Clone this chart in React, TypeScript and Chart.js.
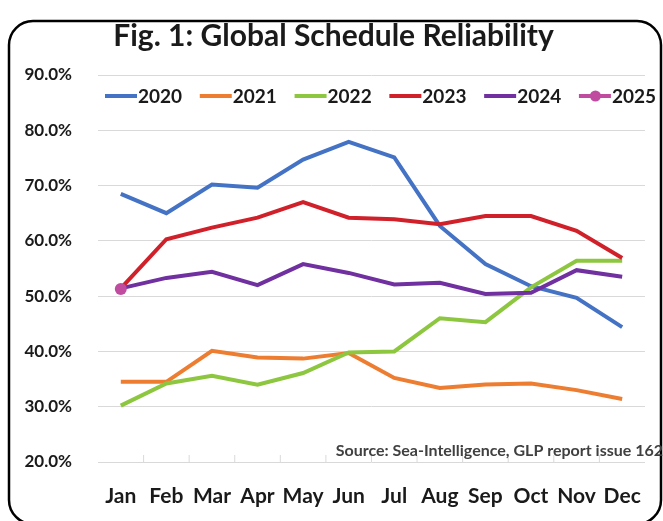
import { useEffect, useRef } from "react";
import { Chart, registerables } from "chart.js";

Chart.register(...registerables);

const MONTHS = ["Jan", "Feb", "Mar", "Apr", "May", "Jun", "Jul", "Aug", "Sep", "Oct", "Nov", "Dec"];
const SERIES_LABELS = ["2020", "2021", "2022", "2023", "2024", "2025"];
const S2020 = [68.5, 65.0, 70.2, 69.6, 74.7, 77.9, 75.1, 62.7, 55.8, 51.8, 49.7, 44.4];
const S2021 = [34.5, 34.5, 40.1, 38.9, 38.7, 39.7, 35.2, 33.4, 34.0, 34.2, 33.0, 31.4];
const S2022 = [30.2, 34.2, 35.6, 34.0, 36.1, 39.8, 40.0, 46.0, 45.3, 51.6, 56.4, 56.4];
const S2023 = [51.4, 60.3, 62.4, 64.2, 67.0, 64.2, 63.9, 63.0, 64.5, 64.5, 61.8, 56.9];
const S2024 = [51.4, 53.3, 54.4, 52.0, 55.8, 54.2, 52.1, 52.4, 50.4, 50.6, 54.7, 53.5];
const S2025 = [51.3, null, null, null, null, null, null, null, null, null, null, null];
const COLORS = ["#4472C4", "#ED7D31", "#8DC63F", "#D0202A", "#7030A0", "#C04CA0"];
const Y_MIN = 20;
const Y_MAX = 90;
const Y_STEP = 10;
const TITLE = "Fig. 1: Global Schedule Reliability";
const SOURCE = "Source: Sea-Intelligence, GLP report issue 162";

const FONT = "Lato, 'Open Sans', sans-serif";

const framePlugin = {
  id: "frame",
  beforeDraw(chart: any) {
    const ctx = chart.ctx;
    ctx.save();
    ctx.fillStyle = "#ffffff";
    ctx.fillRect(0, 0, chart.width, chart.height);
    ctx.beginPath();
    ctx.roundRect(9, 21, 652, 503, 24);
    ctx.lineWidth = 2.5;
    ctx.strokeStyle = "#000000";
    ctx.stroke();
    ctx.restore();
  },
  afterDraw(chart: any) {
    const ctx = chart.ctx;
    const area = chart.chartArea;
    const xs = chart.scales.x;
    ctx.save();
    ctx.strokeStyle = "#d9d9d9";
    ctx.lineWidth = 1;
    for (let i = 0; i < MONTHS.length - 1; i++) {
      const px = (xs.getPixelForTick(i) + xs.getPixelForTick(i + 1)) / 2;
      ctx.beginPath();
      ctx.moveTo(px, area.bottom - 7);
      ctx.lineTo(px, area.bottom);
      ctx.stroke();
    }
    ctx.font = `bold 16px ${FONT}`;
    ctx.fillStyle = "#404040";
    ctx.textAlign = "right";
    ctx.textBaseline = "middle";
    ctx.fillText(SOURCE, 663, 451);
    ctx.font = `bold 19px ${FONT}`;
    ctx.textAlign = "left";
    const items = chart.data.datasets.map((d: any) => ({
      label: d.label,
      color: d.borderColor,
      marker: d.pointRadius > 0,
      w: ctx.measureText(d.label).width,
    }));
    const sw = 33;
    const startX = 105;
    const endX = 656;
    const used = items.reduce((s: number, it: any) => s + sw + it.w, 0);
    const gap = (endX - startX - used) / (items.length - 1);
    let x = startX;
    const y = 96;
    items.forEach((it: any) => {
      ctx.strokeStyle = it.color;
      ctx.lineWidth = 4;
      ctx.lineCap = "butt";
      ctx.beginPath();
      ctx.moveTo(x, y);
      ctx.lineTo(x + sw - 1, y);
      ctx.stroke();
      if (it.marker) {
        ctx.fillStyle = it.color;
        ctx.beginPath();
        ctx.arc(x + sw / 2, y, 5.5, 0, Math.PI * 2);
        ctx.fill();
      }
      ctx.fillStyle = "#1a1a1a";
      ctx.fillText(it.label, x + sw, y + 1);
      x += sw + it.w + gap;
    });
    ctx.restore();
  },
};

export default function App() {
  const ref = useRef<HTMLCanvasElement | null>(null);

  useEffect(() => {
    document.body.style.margin = "0";
    document.body.style.overflow = "hidden";
    const values = [S2020, S2021, S2022, S2023, S2024, S2025];
    const chart = new Chart(ref.current as HTMLCanvasElement, {
      type: "line",
      data: {
        labels: MONTHS,
        datasets: values.map((v, i) => ({
          label: SERIES_LABELS[i],
          data: v,
          borderColor: COLORS[i],
          backgroundColor: COLORS[i],
          borderWidth: 4,
          pointRadius: i === 5 ? 6 : 0,
          pointHoverRadius: i === 5 ? 6 : 0,
          pointBorderWidth: 0,
          tension: 0,
          fill: false,
          order: values.length - i,
          spanGaps: false,
        })),
      },
      options: {
        responsive: false,
        animation: false,
        layout: { padding: { left: 0, right: -4, top: 0, bottom: 0 } },
        plugins: {
          legend: { display: false },
          tooltip: { enabled: false },
          title: {
            display: true,
            text: TITLE,
            color: "#1a1a1a",
            font: { family: FONT, size: 30, weight: "bold" },
            padding: { top: 18, bottom: 21 },
          },
        },
        scales: {
          x: {
            offset: true,
            grid: { display: false, drawTicks: false },
            border: { display: false },
            afterFit: (s: any) => {
              s.height = 59;
            },
            ticks: {
              color: "#1a1a1a",
              font: { family: FONT, size: 21, weight: "bold" },
              padding: 22,
              maxRotation: 0,
              autoSkip: false,
            },
          },
          y: {
            min: Y_MIN,
            max: Y_MAX,
            grid: { color: "#d9d9d9", lineWidth: 1, drawTicks: false },
            border: { display: false },
            afterFit: (s: any) => {
              s.width = 98;
            },
            ticks: {
              stepSize: Y_STEP,
              color: "#1a1a1a",
              font: { family: FONT, size: 17, weight: "bold" },
              padding: 26,
              callback: (v: any) => Number(v).toFixed(1) + "%",
            },
          },
        },
      },
      plugins: [framePlugin],
    });
    return () => chart.destroy();
  }, []);

  return <canvas ref={ref} width={663} height={521} style={{ display: "block" }} />;
}
